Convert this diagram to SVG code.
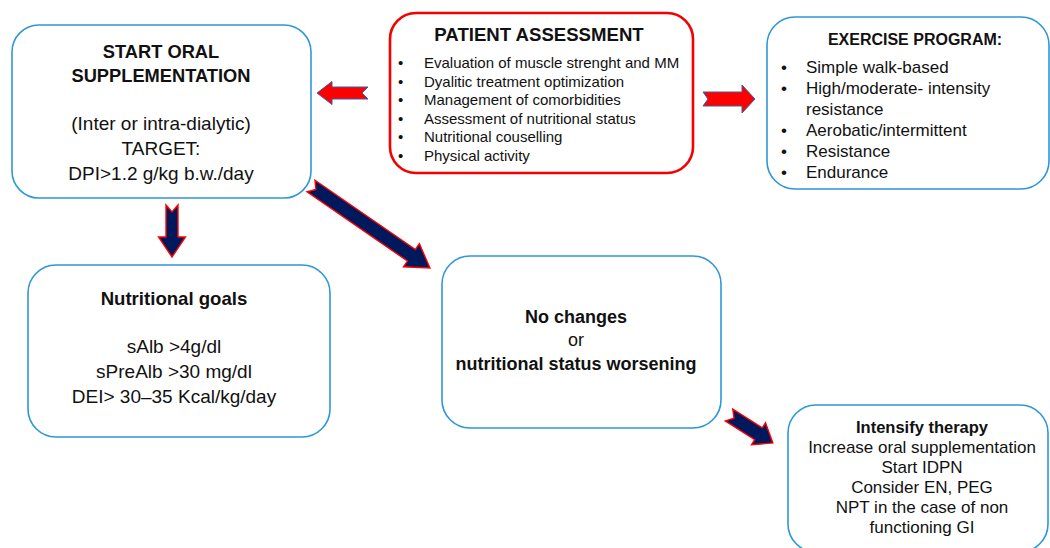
<svg xmlns="http://www.w3.org/2000/svg" width="1050" height="548" viewBox="0 0 1050 548">
<style>
.box{fill:#fff;stroke:#2e97d8;stroke-width:1.6}
.rbox{fill:#fff;stroke:#f40000;stroke-width:2.6}
text{font-family:"Liberation Sans",Arial,sans-serif;fill:#111}
.b{font-weight:bold}
.c{text-anchor:middle}
.ra{fill:#ff0000;stroke:#3a5fa8;stroke-width:1}
.na{fill:#00195c;stroke:#ff0000;stroke-width:1.4}
</style>
<rect width="1050" height="548" fill="#fff"/>
<g id="start-oral">
<rect class="box" x="12" y="25" width="299" height="173" rx="27"/>
<text class="b c" x="161" y="58" font-size="18.3">START ORAL</text>
<text class="b c" x="161" y="82" font-size="18.3">SUPPLEMENTATION</text>
<text class="c" x="161" y="130" font-size="19">(Inter or intra-dialytic)</text>
<text class="c" x="161" y="155" font-size="19">TARGET:</text>
<text class="c" x="161" y="180" font-size="19">DPI&gt;1.2 g/kg b.w./day</text>
</g>
<g id="patient-assessment">
<rect class="rbox" x="390" y="13" width="303" height="160" rx="26"/>
<text class="b c" x="539" y="41" font-size="18.6">PATIENT ASSESSMENT</text>
<g font-size="15">
<text x="398" y="68">•</text><text x="424" y="68">Evaluation of muscle strenght and MM</text>
<text x="398" y="86.6">•</text><text x="424" y="86.6">Dyalitic treatment optimization</text>
<text x="398" y="105.2">•</text><text x="424" y="105.2">Management of comorbidities</text>
<text x="398" y="123.8">•</text><text x="424" y="123.8">Assessment of nutritional status</text>
<text x="398" y="142.4">•</text><text x="424" y="142.4">Nutritional couselling</text>
<text x="398" y="161">•</text><text x="424" y="161">Physical activity</text>
</g>
</g>
<g id="exercise-program">
<rect class="box" x="767" y="17" width="282" height="172" rx="28"/>
<text class="b c" x="915" y="45" font-size="16">EXERCISE PROGRAM:</text>
<g font-size="17">
<text x="781" y="73">•</text><text x="806" y="73">Simple walk-based</text>
<text x="781" y="94">•</text><text x="806" y="94">High/moderate- intensity</text>
<text x="806" y="115">resistance</text>
<text x="781" y="136">•</text><text x="806" y="136">Aerobatic/intermittent</text>
<text x="781" y="157">•</text><text x="806" y="157">Resistance</text>
<text x="781" y="178">•</text><text x="806" y="178">Endurance</text>
</g>
</g>
<g id="nutritional-goals">
<rect class="box" x="28" y="265" width="302" height="172" rx="28"/>
<text class="b c" x="174" y="305" font-size="18.6">Nutritional goals</text>
<text class="c" x="174" y="353" font-size="19">sAlb &gt;4g/dl</text>
<text class="c" x="174" y="378" font-size="19">sPreAlb &gt;30 mg/dl</text>
<text class="c" x="174" y="403" font-size="19">DEI&gt; 30–35 Kcal/kg/day</text>
</g>
<g id="no-changes">
<rect class="box" x="442" y="256" width="279" height="172" rx="28"/>
<text class="b c" x="576" y="323" font-size="18">No changes</text>
<text class="c" x="576" y="346" font-size="18">or</text>
<text class="b c" x="576" y="370" font-size="18">nutritional status worsening</text>
</g>
<g id="intensify-therapy">
<rect class="box" x="788" y="405" width="260" height="147" rx="28"/>
<text class="b c" x="922" y="433" font-size="16.5">Intensify therapy</text>
<g font-size="17">
<text class="c" x="922" y="453">Increase oral supplementation</text>
<text class="c" x="922" y="473">Start IDPN</text>
<text class="c" x="922" y="493">Consider EN, PEG</text>
<text class="c" x="922" y="513">NPT in the case of non</text>
<text class="c" x="922" y="533">functioning GI</text>
</g>
</g>
<g id="connectors">
<polygon class="ra" transform="translate(368,93) rotate(180)" points="0,-6 36,-6 36,-11.5 51,0 36,11.5 36,6 0,6 6,0"/>
<polygon class="ra" transform="translate(703,99) rotate(0)" points="0,-7 39,-7 39,-14 52,0 39,14 39,7 0,7 5,0"/>
<polygon class="na" transform="translate(172,205) rotate(90)" points="0,-6 32,-6 32,-13.5 52,0 32,13.5 32,6 0,6 7,0"/>
<polygon class="na" transform="translate(311,186) rotate(34.6)" points="0,-7 122,-7 122,-14 144.5,0 122,14 122,7 0,7 6,0"/>
<polygon class="na" transform="translate(729,415) rotate(32.5)" points="0,-7 35,-7 35,-13 52,0 35,13 35,7 0,7 6,0"/>
</g>
</svg>
